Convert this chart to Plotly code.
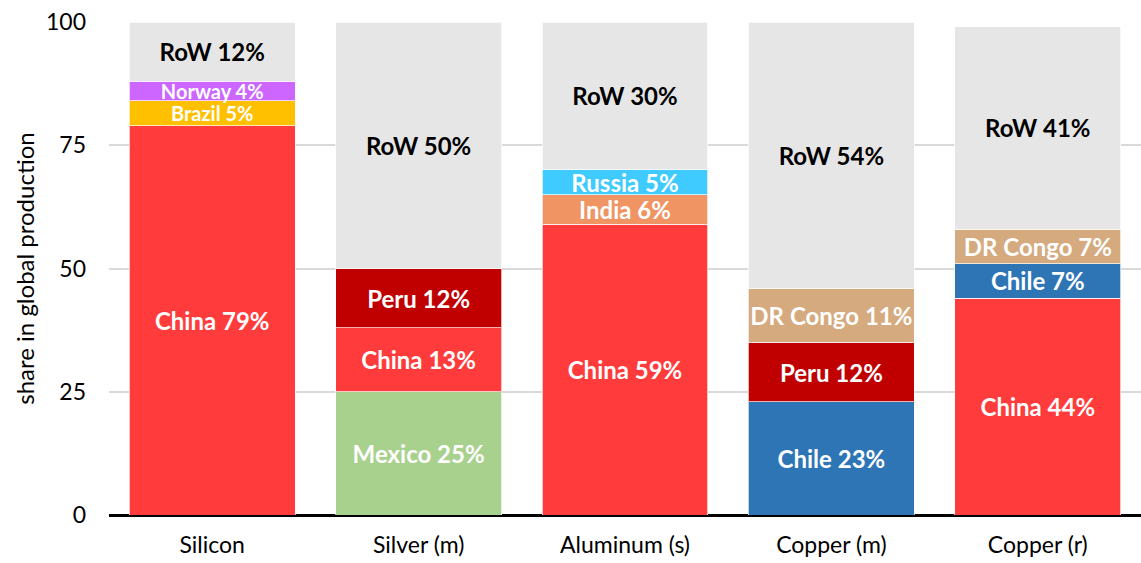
import plotly.graph_objects as go

# Production shares (%) by material, bottom-to-top stacking order
categories = ["Silicon", "Silver (m)", "Aluminum (s)", "Copper (m)", "Copper (r)"]

silicon_countries = ["China", "Brazil", "Norway", "RoW"]
silicon_shares = [79, 5, 4, 12]

silver_countries = ["Mexico", "China", "Peru", "RoW"]
silver_shares = [25, 13, 12, 50]

aluminum_countries = ["China", "India", "Russia", "RoW"]
aluminum_shares = [59, 6, 5, 30]

copper_mined_countries = ["Chile", "Peru", "DR Congo", "RoW"]
copper_mined_shares = [23, 12, 11, 54]

copper_refined_countries = ["China", "Chile", "DR Congo", "RoW"]
copper_refined_shares = [44, 7, 7, 41]

y_ticks = [0, 25, 50, 75, 100]

country_colors = {
    "China": "#ff3b3b",
    "Brazil": "#ffc000",
    "Norway": "#cc66ff",
    "RoW": "#e6e6e6",
    "Mexico": "#a9d18e",
    "Peru": "#c00000",
    "India": "#ef9462",
    "Russia": "#3fcbff",
    "DR Congo": "#d5aa7e",
    "Chile": "#2e75b6",
}

stacks = [
    (silicon_countries, silicon_shares),
    (silver_countries, silver_shares),
    (aluminum_countries, aluminum_shares),
    (copper_mined_countries, copper_mined_shares),
    (copper_refined_countries, copper_refined_shares),
]

FONT = "Lato"
LABEL_SIZE = 24
TIGHT_LABEL_SIZE = 20   # two thin neighbouring segments share little room


def label_size(shares, i):
    thin = shares[i] < 6
    neighbour_thin = any(
        0 <= j < len(shares) and shares[j] < 6 for j in (i - 1, i + 1)
    )
    return TIGHT_LABEL_SIZE if thin and neighbour_thin else LABEL_SIZE


fig = go.Figure()

n_layers = max(len(c) for c, _ in stacks)
for layer in range(n_layers):
    xs, ys, texts, colors, tcolors, tsizes = [], [], [], [], [], []
    for cat, (countries, shares) in zip(categories, stacks):
        if layer < len(countries):
            name = countries[layer]
            xs.append(cat)
            ys.append(shares[layer])
            texts.append(f"{name} {shares[layer]}%")
            colors.append(country_colors[name])
            tcolors.append("#000000" if name == "RoW" else "#ffffff")
            tsizes.append(label_size(shares, layer))
    fig.add_trace(go.Bar(
        x=xs, y=ys, text=texts,
        marker=dict(color=colors, line=dict(color="rgba(255,255,255,0.7)", width=1)),
        textposition="inside", insidetextanchor="middle", textangle=0,
        constraintext="none",
        textfont=dict(family=FONT, size=tsizes, color=tcolors, weight="bold"),
        cliponaxis=False, showlegend=False, hoverinfo="skip",
    ))

fig.update_layout(
    barmode="stack",
    bargap=0.196,
    width=1141, height=563,
    margin=dict(l=109, r=0, t=22, b=48),
    plot_bgcolor="white", paper_bgcolor="white",
    font=dict(family=FONT, size=22, color="#000000"),
)
fig.update_xaxes(
    categoryorder="array", categoryarray=categories,
    showgrid=False, showline=False, ticks="",
    ticklabelstandoff=14,
    tickfont=dict(family=FONT, size=23),
)
fig.update_yaxes(
    range=[0, 100], tickvals=y_ticks,
    showgrid=True, gridcolor="#d9d9d9", gridwidth=1.5,
    zeroline=True, zerolinecolor="#000000", zerolinewidth=2.5,
    ticklabelstandoff=22,
    tickfont=dict(family=FONT, size=23),
    title=dict(text="share in global production", font=dict(family=FONT, size=24), standoff=4),
)

fig.write_html("out.html")
